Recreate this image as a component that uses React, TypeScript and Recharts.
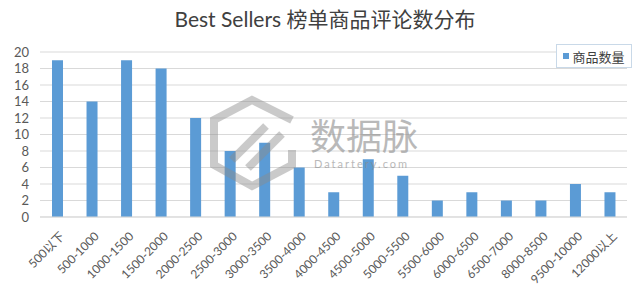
import React from 'react'
import { BarChart, Bar, XAxis, YAxis, CartesianGrid } from 'recharts';

const categories: string[] = [
    '500以下', '500-1000', '1000-1500', '1500-2000', '2000-2500', '2500-3000',
    '3000-3500', '3500-4000', '4000-4500', '4500-5000', '5000-5500', '5500-6000',
    '6000-6500', '6500-7000', '8000-8500', '9500-10000', '12000以上',
]
const counts: number[] = [19, 14, 19, 18, 12, 8, 9, 6, 3, 7, 5, 2, 3, 2, 2, 4, 3]
const yTicks: number[] = [0, 2, 4, 6, 8, 10, 12, 14, 16, 18, 20]

const seriesName = '商品数量'
const title = 'Best Sellers 榜单商品评论数分布'

const font = "Lato, 'Noto Sans CJK SC', sans-serif"
const barColor = '#5B9BD5'

const data = categories.map((name, i) => ({ name, value: counts[i] }))

const RotatedTick = (props: any) => {
    const { x, y, payload } = props
    return (
        <g transform={`translate(${x + 8},${y + 12})`}>
            <text x={0} y={0} textAnchor="end" fill="#595959" fontSize={12} fontFamily={font} transform="rotate(-45)">
                {payload.value}
            </text>
        </g>
    )
}

// legend sits inside the plot's top-right corner, over the grid
const LegendBox = () => (
    <div style={{
        position: 'absolute', left: 556, top: 44, width: 74, height: 22,
        border: '1px solid #C9D9E8', background: '#fff',
        display: 'flex', alignItems: 'center', justifyContent: 'center',
        fontFamily: font, fontSize: 13, color: '#404040',
    }}>
        <span style={{ width: 6, height: 6, background: barColor, marginRight: 3 }} />
        {seriesName}
    </div>
)

// faint site mark over the middle of the plot
const Watermark = () => (
    <svg width={640} height={288} style={{ position: 'absolute', left: 0, top: 0, pointerEvents: 'none' }}>
        <g opacity={0.45} fill="none" stroke="#8c8c8c" strokeWidth={8}>
            <polyline points="292,120 252,100 214,120 214,165 252,186 292,165 292,150" />
            <line x1={232} y1={160} x2={266} y2={126} />
            <line x1={248} y1={168} x2={282} y2={134} />
        </g>
        <text x={310} y={150} fontSize={36} fill="#8c8c8c" opacity={0.6} fontFamily={font}>数据脉</text>
        <text x={314} y={168} fontSize={11} fill="#8c8c8c" opacity={0.6} letterSpacing={2} fontFamily={font}>Datartery.com</text>
    </svg>
)

const App: React.FC = () => {
    return (
        <div style={{ position: 'relative', width: 640, height: 288, background: '#fff' }}>
            <style>{'body { margin: 0; }'}</style>
            <div style={{
                position: 'absolute', top: 3, left: 10, width: 630, textAlign: 'center',
                fontFamily: font, fontSize: 21, color: '#404040', zIndex: 1,
            }}>
                {title}
            </div>
            <BarChart
                width={640}
                height={288}
                data={data}
                margin={{ top: 52, right: 13, left: 0, bottom: 0 }}
            >
                <CartesianGrid vertical={false} stroke="#D9D9D9" />
                <XAxis
                    dataKey="name"
                    interval={0}
                    height={71}
                    tickLine={false}
                    axisLine={{ stroke: '#D9D9D9' }}
                    tick={<RotatedTick />}
                />
                <YAxis
                    width={40}
                    domain={[0, 20]}
                    ticks={yTicks}
                    interval={0}
                    tickLine={false}
                    axisLine={false}
                    tick={{ fill: '#595959', fontSize: 13, fontFamily: font, dx: -3 }}
                />
                <Bar dataKey="value" name={seriesName} fill={barColor} barSize={11} isAnimationActive={false} />
            </BarChart>
            <Watermark />
            <LegendBox />
        </div>
    )
}

export default App
